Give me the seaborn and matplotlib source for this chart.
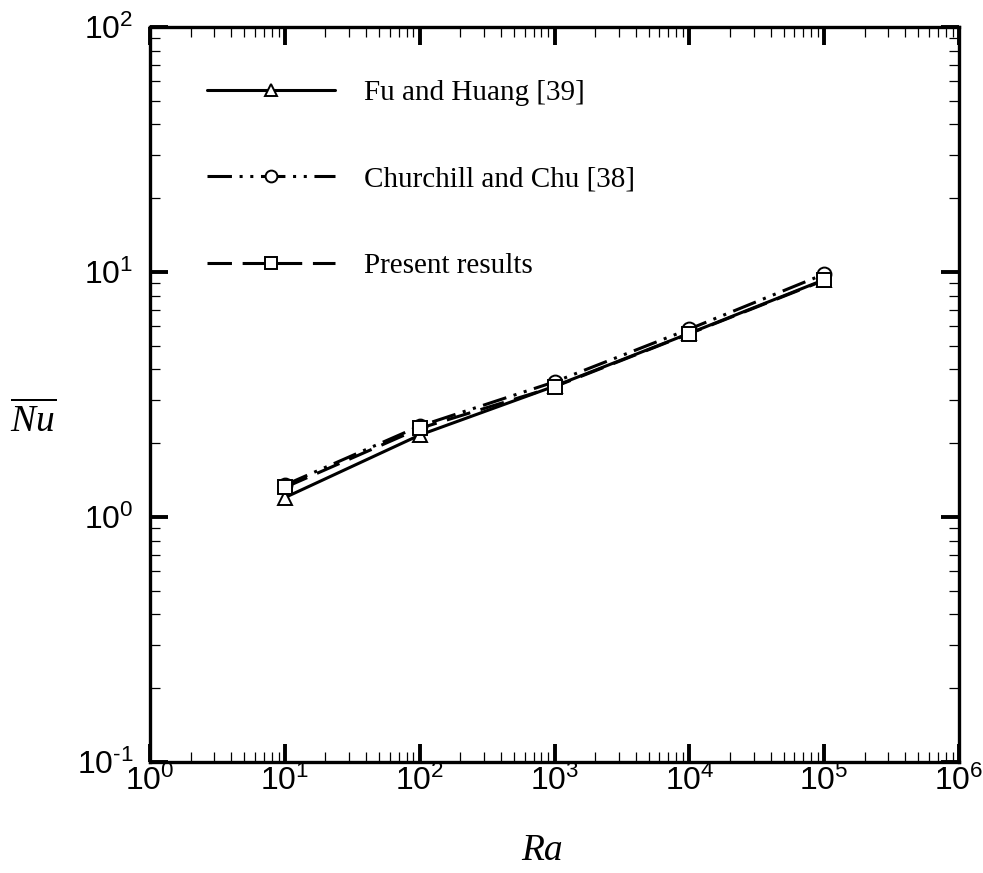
import numpy as np
import matplotlib
matplotlib.use("Agg")
import matplotlib.pyplot as plt
import seaborn as sns
from matplotlib.ticker import LogLocator, FuncFormatter, NullFormatter

# data
ra = [1e1, 1e2, 1e3, 1e4, 1e5]
nu_fu_huang = [1.20, 2.16, 3.42, 5.62, 9.30]
nu_churchill = [1.35, 2.35, 3.56, 5.85, 9.80]
nu_present = [1.32, 2.30, 3.40, 5.60, 9.25]

labels = ["Fu and Huang [39]", "Churchill and Chu [38]", "Present results"]

sns.set_theme(style="ticks")
plt.rcParams["font.family"] = ["Liberation Sans", "DejaVu Sans"]
plt.rcParams["mathtext.fontset"] = "custom"
plt.rcParams["mathtext.rm"] = "Liberation Sans"
plt.rcParams["mathtext.it"] = "Liberation Serif:italic"
plt.rcParams["text.color"] = "black"

fig = plt.figure(figsize=(9.83, 8.73), dpi=100)
ax = fig.add_axes([150 / 983, 111 / 873, 809 / 983, 735 / 873])

common = dict(color="black", lw=2.2, markersize=10, markerfacecolor="white",
              markeredgecolor="black", markeredgewidth=1.4, ax=ax)
sns.lineplot(x=ra, y=nu_fu_huang, marker="^", linestyle="-", label=labels[0], **common)
sns.lineplot(x=ra, y=nu_churchill, marker="o", dashes=(8, 2.5, 1, 2.5, 1, 2.5),
             label=labels[1], **common)
sns.lineplot(x=ra, y=nu_present, marker="s", dashes=(8, 3.5), label=labels[2], **common)

ax.set_xscale("log")
ax.set_yscale("log")
ax.set_xlim(1e0, 1e6)
ax.set_ylim(1e-1, 1e2)


def log_label(v, pos):
    e = int(round(np.log10(v)))
    if e < 0:
        return r"$\mathregular{10^{\text{-}%d}}$" % (-e)
    return r"$\mathregular{10^{%d}}$" % e


fmt = FuncFormatter(log_label)
for axis in (ax.xaxis, ax.yaxis):
    axis.set_major_locator(LogLocator(base=10, numticks=10))
    axis.set_minor_locator(LogLocator(base=10, subs=np.arange(2, 10), numticks=20))
    axis.set_major_formatter(fmt)
    axis.set_minor_formatter(NullFormatter())

ax.tick_params(which="both", direction="in", top=True, right=True, colors="black")
ax.tick_params(which="major", length=13, width=2.8, labelsize=23)
ax.tick_params(axis="x", which="major", pad=3)
ax.tick_params(axis="y", which="major", pad=12)
ax.tick_params(which="minor", length=7, width=0.9)
for sp in ax.spines.values():
    sp.set_linewidth(2.4)
    sp.set_color("black")

ax.set_xlabel("")
ax.set_ylabel("")
fig.text(542 / 983, 1 - 851 / 873, "Ra", family="Liberation Serif", style="italic",
         fontsize=27, ha="center", va="center", color="black")
fig.text(33 / 983, 1 - 421 / 873, r"$\overline{Nu}$", fontsize=27,
         ha="center", va="center", color="black")

leg = ax.legend(loc="upper left", bbox_to_anchor=(0.07, 0.928), frameon=False,
                borderpad=0, borderaxespad=0, handlelength=4.4, handletextpad=1.0,
                labelspacing=2.05, numpoints=1, markerscale=0.85,
                prop={"family": "Liberation Serif", "size": 21})
for t in leg.get_texts():
    t.set_color("black")

fig.savefig("out.png", dpi=100, facecolor="white")
